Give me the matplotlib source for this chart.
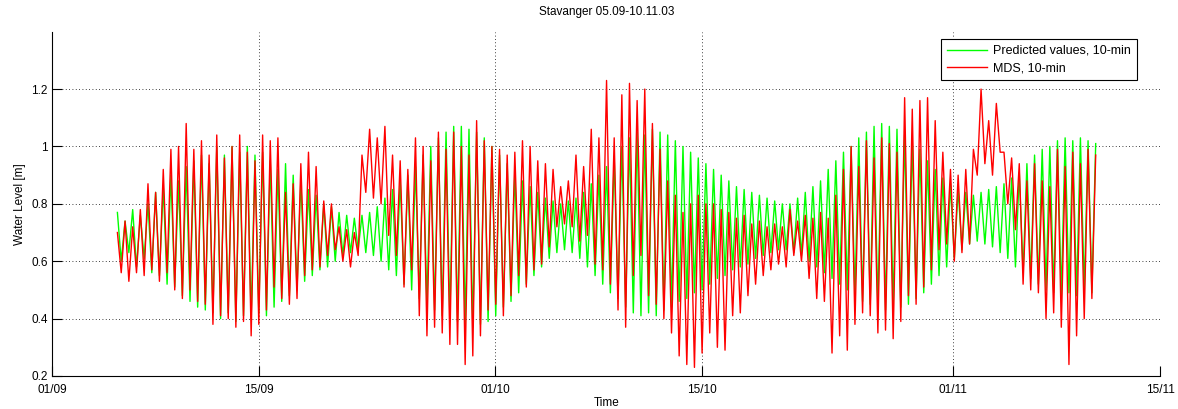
import numpy as np
import pandas as pd
import matplotlib
matplotlib.use("Agg")
import matplotlib.pyplot as plt
import matplotlib.dates as mdates

plt.rcParams['font.family'] = ['Liberation Sans', 'DejaVu Sans']

# Tidal extremes (high water / low water per semidiurnal cycle), metres
pred_high = [0.77, 0.74, 0.78, 0.76, 0.80,
             0.84, 0.86, 0.90, 0.88,
             0.93, 0.95, 0.97, 0.94,
             1.00, 0.97, 1.00, 0.98, 1.00, 0.97, 0.98,
             0.95, 0.92, 0.94, 0.90, 0.88,
             0.85, 0.83, 0.80, 0.79, 0.77,
             0.76, 0.75, 0.76, 0.77, 0.79,
             0.82, 0.85, 0.88, 0.90, 0.93,
             0.97, 1.00, 1.03, 1.05, 1.07,
             1.07, 1.06, 1.05, 1.03, 1.00,
             0.97, 0.94, 0.91, 0.88, 0.86,
             0.84, 0.82, 0.81, 0.80, 0.81, 0.82,
             0.84, 0.87, 0.90, 0.93, 0.96,
             1.00, 1.03, 1.05, 1.04, 1.06,
             1.05, 1.04, 1.02, 1.00, 0.98, 0.96,
             0.94, 0.92, 0.90, 0.88, 0.86,
             0.85, 0.84, 0.83, 0.82, 0.81, 0.80,
             0.80, 0.82, 0.84, 0.86, 0.88,
             0.92, 0.95, 0.98, 1.00, 1.03,
             1.05, 1.07, 1.08, 1.07, 1.06, 1.04,
             1.02, 0.99, 0.95, 0.92, 0.89,
             0.87, 0.85, 0.84, 0.83, 0.84, 0.85,
             0.86, 0.87, 0.89, 0.91, 0.94,
             0.97, 0.99, 1.00, 1.02, 1.03, 1.02, 1.03, 1.02,
             1.01]
pred_low = [0.60, 0.63, 0.58, 0.61, 0.56,
            0.55, 0.52, 0.51, 0.48,
            0.46, 0.44, 0.43, 0.42,
            0.40, 0.42, 0.39, 0.41, 0.40, 0.42, 0.41,
            0.44, 0.46, 0.48, 0.50, 0.53,
            0.55, 0.57, 0.58, 0.60, 0.62,
            0.63, 0.64, 0.63, 0.62, 0.60,
            0.57, 0.55, 0.52, 0.50, 0.47,
            0.45, 0.43, 0.41, 0.40, 0.39,
            0.38, 0.37, 0.38, 0.39, 0.41,
            0.44, 0.46, 0.49, 0.52, 0.55,
            0.58, 0.61, 0.63, 0.64, 0.63, 0.61,
            0.58, 0.55, 0.52, 0.49, 0.47,
            0.44, 0.42, 0.41, 0.42, 0.41,
            0.43, 0.44, 0.46, 0.47, 0.49, 0.50,
            0.52, 0.54, 0.55, 0.57, 0.58,
            0.59, 0.61, 0.62, 0.63, 0.64, 0.64,
            0.63, 0.62, 0.60, 0.58, 0.56,
            0.54, 0.52, 0.50, 0.48, 0.46,
            0.45, 0.44, 0.43, 0.44, 0.44, 0.45,
            0.47, 0.49, 0.52, 0.55, 0.58,
            0.61, 0.64, 0.66, 0.67, 0.66, 0.65,
            0.63, 0.61, 0.58, 0.56, 0.54,
            0.52, 0.50, 0.49, 0.48, 0.49, 0.48, 0.50, 0.49]

mds_high = [0.70, 0.74, 0.72, 0.78, 0.87, 0.84, 0.92, 0.99, 1.00, 1.08,
            0.99, 1.02, 0.97, 1.04, 0.96, 1.00, 1.04, 0.98, 0.95, 1.04,
            1.02, 1.03, 0.84, 0.87, 0.94, 0.98, 0.93, 0.81, 0.80, 0.72,
            0.71, 0.70, 0.97, 1.06, 1.03, 1.07, 0.97, 0.95, 0.92, 1.03,
            1.00, 0.95, 1.05, 0.99, 1.05, 1.00, 0.97, 1.09, 1.02, 1.00,
            0.99, 0.97, 0.98, 1.02, 1.00, 0.95, 0.94, 0.92, 0.86, 0.88,
            0.97, 0.93, 1.06, 1.03, 1.23, 1.03, 1.18, 1.22, 1.16, 1.20,
            1.08, 0.99, 0.88, 0.83, 0.77, 0.80, 0.83, 0.80, 0.80, 0.78,
            0.77, 0.75, 0.76, 0.73, 0.74, 0.72, 0.73, 0.72, 0.78, 0.74,
            0.76, 0.75, 0.77, 0.75, 0.83, 0.92, 1.00, 0.93, 1.02, 0.96,
            1.03, 1.01, 0.98, 1.17, 1.13, 1.16, 1.17, 1.09, 0.98, 0.92,
            0.90, 0.92, 0.99, 1.20, 1.09, 1.15, 0.98, 0.96, 0.94, 0.88,
            0.94, 0.88, 0.86, 0.99, 0.93, 0.98, 0.94, 0.99,
            0.97]
mds_low = [0.56, 0.53, 0.56, 0.55, 0.57, 0.53, 0.56, 0.50, 0.47, 0.50,
           0.46, 0.45, 0.38, 0.41, 0.40, 0.37, 0.39, 0.34, 0.38, 0.43,
           0.51, 0.47, 0.45, 0.47, 0.55, 0.57, 0.58, 0.62, 0.64, 0.60,
           0.58, 0.62, 0.84, 0.82, 0.80, 0.69, 0.62, 0.51, 0.57, 0.41,
           0.34, 0.37, 0.35, 0.31, 0.31, 0.24, 0.27, 0.34, 0.43, 0.45,
           0.41, 0.48, 0.55, 0.51, 0.57, 0.59, 0.65, 0.72, 0.73, 0.72,
           0.67, 0.69, 0.59, 0.57, 0.52, 0.43, 0.37, 0.55, 0.62, 0.48,
           0.45, 0.40, 0.35, 0.27, 0.24, 0.23, 0.28, 0.35, 0.30, 0.29,
           0.41, 0.42, 0.48, 0.52, 0.55, 0.57, 0.59, 0.58, 0.62, 0.60,
           0.54, 0.47, 0.46, 0.28, 0.34, 0.29, 0.38, 0.42, 0.41, 0.35,
           0.36, 0.33, 0.39, 0.48, 0.45, 0.51, 0.57, 0.64, 0.66, 0.60,
           0.63, 0.66, 0.90, 0.94, 0.90, 0.98, 0.80, 0.71, 0.52, 0.50,
           0.49, 0.40, 0.42, 0.37, 0.24, 0.34, 0.40, 0.47]

series_start = pd.Timestamp("2003-09-05 09:36")
half_cycle_hours = 6.21

tick_dates = ["2003-09-01", "2003-09-15", "2003-10-01",
              "2003-10-15", "2003-11-01", "2003-11-15"]
y_ticks = [0.2, 0.4, 0.6, 0.8, 1.0, 1.2]
y_tick_labels = ["0.2", "0.4", "0.6", "0.8", "1", "1.2"]


def extremes_series(highs, lows):
    vals = []
    for i, h in enumerate(highs):
        vals.append(h)
        if i < len(lows):
            vals.append(lows[i])
    times = series_start + pd.to_timedelta(np.arange(len(vals)) * half_cycle_hours, unit="h")
    return times, np.array(vals)


t_pred, v_pred = extremes_series(pred_high, pred_low)
t_mds, v_mds = extremes_series(mds_high, mds_low)

fig = plt.figure(figsize=(11.78, 4.09), dpi=100)
ax = fig.add_axes([0.0445, 0.0807, 0.9403, 0.8418])

ax.plot(t_pred, v_pred, color="#00ff00", lw=1.0, label="Predicted values, 10-min")
ax.plot(t_mds, v_mds, color="#ff0000", lw=1.0, label="MDS, 10-min")

ax.set_xlim(pd.Timestamp(tick_dates[0]), pd.Timestamp(tick_dates[-1]))
ax.set_ylim(0.2, 1.4)
ax.set_xticks([pd.Timestamp(d) for d in tick_dates])
ax.xaxis.set_major_formatter(mdates.DateFormatter("%d/%m"))
ax.set_yticks(y_ticks)
ax.set_yticklabels(y_tick_labels)

ax.tick_params(direction="in", length=7, width=0.8, labelsize=8.5)
ax.tick_params(axis="x", pad=5.5)
ax.tick_params(axis="y", pad=3.5)
ax.grid(True, color="black", linestyle=(0, (1, 3)), linewidth=0.6)
for side in ("top", "right"):
    ax.spines[side].set_visible(False)
for side in ("left", "bottom"):
    ax.spines[side].set_linewidth(0.8)

ax.set_title("Stavanger 05.09-10.11.03", fontsize=8.5, pad=12)
ax.set_xlabel("Time", fontsize=8.5, labelpad=1)
ax.set_ylabel("Water Level [m]", fontsize=8.5, labelpad=4)

leg = ax.legend(loc="upper right", bbox_to_anchor=(0.979, 0.978), fontsize=9,
                fancybox=False, edgecolor="black", framealpha=1,
                handlelength=3.2, borderpad=0.45, labelspacing=0.42,
                handletextpad=0.5, borderaxespad=0)
leg.get_frame().set_linewidth(0.8)

fig.savefig("out.png", dpi=100, facecolor="white")
